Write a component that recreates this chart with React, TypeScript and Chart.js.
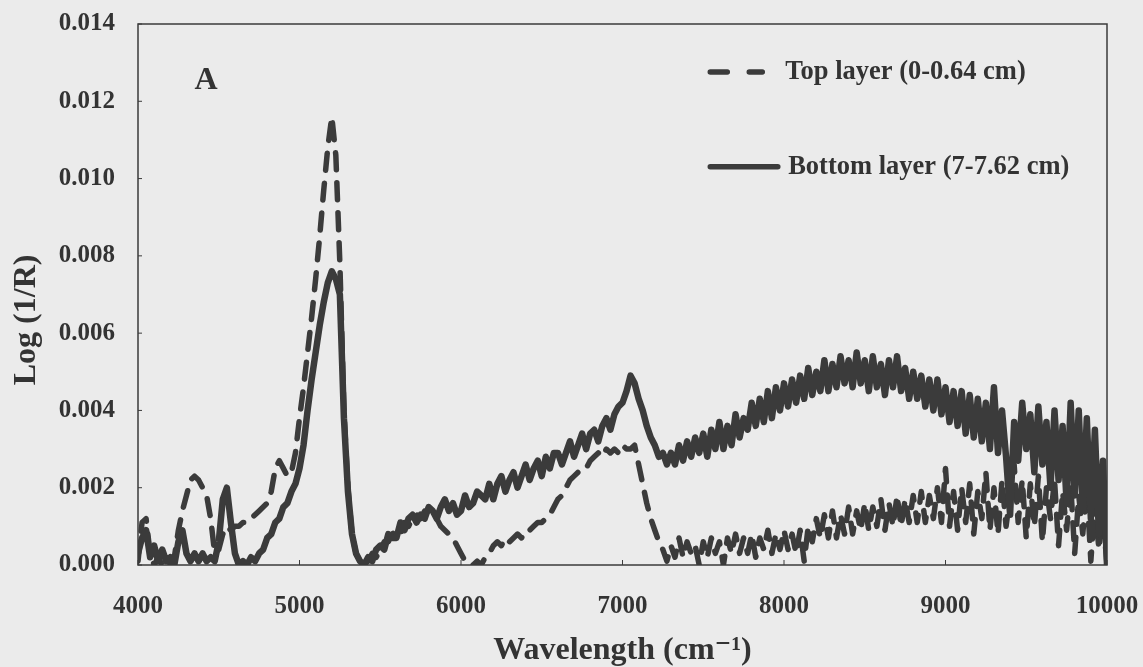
import React, { useEffect, useRef } from "react";
import { Chart, registerables } from "chart.js";

Chart.register(...registerables);

// Wavenumber axis (cm^-1)
const wavenumbers = [
  4000, 4025, 4050, 4075, 4100, 4125, 4150, 4175, 4200, 4225, 4250, 4275, 4300, 4325, 4350, 4375, 4400, 4425, 4450, 4475,
  4500, 4525, 4550, 4575, 4600, 4625, 4650, 4675, 4700, 4725, 4750, 4775, 4800, 4825, 4850, 4875, 4900, 4925, 4950, 4975,
  5000, 5025, 5050, 5075, 5100, 5125, 5150, 5175, 5200, 5225, 5250, 5275, 5300, 5325, 5350, 5375, 5400, 5425, 5450, 5475,
  5500, 5525, 5550, 5575, 5600, 5625, 5650, 5675, 5700, 5725, 5750, 5775, 5800, 5825, 5850, 5875, 5900, 5925, 5950, 5975,
  6000, 6025, 6050, 6075, 6100, 6125, 6150, 6175, 6200, 6225, 6250, 6275, 6300, 6325, 6350, 6375, 6400, 6425, 6450, 6475,
  6500, 6525, 6550, 6575, 6600, 6625, 6650, 6675, 6700, 6725, 6750, 6775, 6800, 6825, 6850, 6875, 6900, 6925, 6950, 6975,
  7000, 7025, 7050, 7075, 7100, 7125, 7150, 7175, 7200, 7225, 7250, 7275, 7300, 7325, 7350, 7375, 7400, 7425, 7450, 7475,
  7500, 7525, 7550, 7575, 7600, 7625, 7650, 7675, 7700, 7725, 7750, 7775, 7800, 7825, 7850, 7875, 7900, 7925, 7950, 7975,
  8000, 8025, 8050, 8075, 8100, 8125, 8150, 8175, 8200, 8225, 8250, 8275, 8300, 8325, 8350, 8375, 8400, 8425, 8450, 8475,
  8500, 8525, 8550, 8575, 8600, 8625, 8650, 8675, 8700, 8725, 8750, 8775, 8800, 8825, 8850, 8875, 8900, 8925, 8950, 8975,
  9000, 9025, 9050, 9075, 9100, 9125, 9150, 9175, 9200, 9225, 9250, 9275, 9300, 9325, 9350, 9375, 9400, 9425, 9450, 9475,
  9500, 9525, 9550, 9575, 9600, 9625, 9650, 9675, 9700, 9725, 9750, 9775, 9800, 9825, 9850, 9875, 9900, 9925, 9950, 9975,
  10000,
];

// Top layer (0-0.64 cm), Log(1/R)
const topLayer = [
  1e-4, 11e-4, 12e-4, 3e-4, 0, 2e-4, 0, 1e-4, 0, 2e-4, 9e-4, 14e-4, 18e-4, 22e-4, 23e-4, 22e-4, 20e-4, 18e-4, 12e-4, 3e-4,
  4e-4, 8e-4, 10e-4, 9e-4, 10e-4, 10e-4, 11e-4, 11e-4, 12e-4, 13e-4, 14e-4, 15e-4, 16e-4, 19e-4, 25e-4, 27e-4, 25e-4, 23e-4, 24e-4, 29e-4,
  38e-4, 46e-4, 55e-4, 64e-4, 74e-4, 85e-4, 97e-4, 108e-4, 116e-4, 106e-4, 78e-4, 40e-4, 20e-4, 8e-4, 3e-4, 1e-4, 0, 1e-4, 3e-4, 2e-4,
  4e-4, 6e-4, 6e-4, 8e-4, 9e-4, 8e-4, 11e-4, 10e-4, 12e-4, 13e-4, 12e-4, 14e-4, 14e-4, 13e-4, 12e-4, 10e-4, 9e-4, 8e-4, 7e-4, 5e-4,
  3e-4, 1e-4, 1e-4, 0, 1e-4, 0, 2e-4, 3e-4, 5e-4, 6e-4, 5e-4, 7e-4, 6e-4, 7e-4, 8e-4, 7e-4, 9e-4, 9e-4, 10e-4, 11e-4,
  11e-4, 12e-4, 13e-4, 15e-4, 17e-4, 18e-4, 20e-4, 22e-4, 23e-4, 24e-4, 25e-4, 25e-4, 27e-4, 28e-4, 29e-4, 28e-4, 30e-4, 29e-4, 30e-4, 29e-4,
  31e-4, 30e-4, 30e-4, 31e-4, 26e-4, 21e-4, 16e-4, 12e-4, 9e-4, 6e-4, 4e-4, 1e-4, 5e-4, 2e-4, 7e-4, 2e-4, 6e-4, 3e-4, 5e-4, 0,
  6e-4, 2e-4, 7e-4, 3e-4, 6e-4, 0, 7e-4, 3e-4, 8e-4, 3e-4, 7e-4, 3e-4, 8e-4, 2e-4, 7e-4, 4e-4, 9e-4, 3e-4, 8e-4, 4e-4,
  9e-4, 4e-4, 8e-4, 3e-4, 9e-4, 1e-4, 10e-4, 6e-4, 12e-4, 7e-4, 13e-4, 7e-4, 14e-4, 7e-4, 13e-4, 8e-4, 15e-4, 8e-4, 14e-4, 9e-4,
  16e-4, 9e-4, 15e-4, 10e-4, 17e-4, 9e-4, 16e-4, 10e-4, 18e-4, 10e-4, 17e-4, 11e-4, 18e-4, 11e-4, 19e-4, 11e-4, 18e-4, 12e-4, 20e-4, 11e-4,
  25e-4, 10e-4, 19e-4, 9e-4, 20e-4, 11e-4, 21e-4, 8e-4, 19e-4, 12e-4, 24e-4, 9e-4, 20e-4, 8e-4, 22e-4, 10e-4, 18e-4, 26e-4, 11e-4, 22e-4,
  7e-4, 21e-4, 10e-4, 23e-4, 6e-4, 20e-4, 12e-4, 22e-4, 5e-4, 19e-4, 9e-4, 21e-4, 3e-4, 18e-4, 8e-4, 20e-4, 1e-4, 16e-4, 4e-4, 13e-4,
  0,
];

// Bottom layer (7-7.62 cm), Log(1/R)
const bottomLayer = [
  3e-4, 7e-4, 9e-4, 2e-4, 5e-4, 1e-4, 4e-4, 1e-4, 2e-4, 0, 6e-4, 9e-4, 3e-4, 1e-4, 3e-4, 1e-4, 3e-4, 1e-4, 2e-4, 1e-4,
  6e-4, 17e-4, 20e-4, 11e-4, 3e-4, 0, 1e-4, 0, 2e-4, 1e-4, 3e-4, 4e-4, 7e-4, 8e-4, 11e-4, 12e-4, 15e-4, 16e-4, 19e-4, 21e-4,
  25e-4, 31e-4, 40e-4, 48e-4, 55e-4, 62e-4, 68e-4, 73e-4, 76e-4, 74e-4, 70e-4, 38e-4, 19e-4, 8e-4, 3e-4, 1e-4, 0, 2e-4, 1e-4, 4e-4,
  5e-4, 4e-4, 8e-4, 7e-4, 7e-4, 11e-4, 9e-4, 12e-4, 13e-4, 11e-4, 13e-4, 12e-4, 15e-4, 14e-4, 12e-4, 15e-4, 17e-4, 14e-4, 16e-4, 13e-4,
  14e-4, 18e-4, 15e-4, 16e-4, 19e-4, 18e-4, 17e-4, 21e-4, 17e-4, 21e-4, 23e-4, 19e-4, 22e-4, 24e-4, 20e-4, 23e-4, 26e-4, 22e-4, 25e-4, 27e-4,
  23e-4, 28e-4, 25e-4, 29e-4, 29e-4, 26e-4, 29e-4, 32e-4, 28e-4, 31e-4, 34e-4, 30e-4, 34e-4, 35e-4, 32e-4, 36e-4, 38e-4, 35e-4, 39e-4, 41e-4,
  42e-4, 45e-4, 49e-4, 47e-4, 43e-4, 40e-4, 36e-4, 33e-4, 31e-4, 28e-4, 29e-4, 26e-4, 29e-4, 26e-4, 31e-4, 27e-4, 32e-4, 28e-4, 33e-4, 29e-4,
  34e-4, 28e-4, 35e-4, 30e-4, 37e-4, 30e-4, 36e-4, 31e-4, 39e-4, 33e-4, 38e-4, 35e-4, 42e-4, 36e-4, 43e-4, 37e-4, 45e-4, 38e-4, 46e-4, 40e-4,
  47e-4, 41e-4, 48e-4, 42e-4, 49e-4, 43e-4, 51e-4, 44e-4, 50e-4, 45e-4, 53e-4, 45e-4, 52e-4, 46e-4, 54e-4, 47e-4, 53e-4, 46e-4, 55e-4, 47e-4,
  53e-4, 45e-4, 54e-4, 46e-4, 52e-4, 44e-4, 53e-4, 46e-4, 54e-4, 45e-4, 51e-4, 43e-4, 50e-4, 43e-4, 49e-4, 41e-4, 48e-4, 40e-4, 48e-4, 39e-4,
  46e-4, 37e-4, 45e-4, 36e-4, 45e-4, 34e-4, 44e-4, 33e-4, 43e-4, 32e-4, 42e-4, 30e-4, 46e-4, 29e-4, 40e-4, 28e-4, 13e-4, 37e-4, 27e-4, 42e-4,
  30e-4, 39e-4, 24e-4, 41e-4, 26e-4, 37e-4, 20e-4, 40e-4, 22e-4, 36e-4, 16e-4, 42e-4, 18e-4, 40e-4, 14e-4, 38e-4, 12e-4, 35e-4, 8e-4, 27e-4,
  0,
];

const seriesLabels = ["Top layer (0-0.64 cm)", "Bottom layer (7-7.62 cm)"];
const panelLabel = "A";
const xTitle = "Wavelength (cm\u207B\u00B9)";
const yTitle = "Log (1/R)";

const INK = "#3b3b3b";
const TEXT = "#333333";
const BG = "#ebebeb";
const SERIF = "'Liberation Serif', 'Times New Roman', 'DejaVu Serif', serif";

const decorPlugin = {
  id: "decor",
  afterDraw(chart: any) {
    const { ctx, chartArea: a, scales } = chart;
    const w = a.right - a.left;
    const h = a.bottom - a.top;
    ctx.save();
    // frame
    ctx.strokeStyle = INK;
    ctx.lineWidth = 1.5;
    ctx.setLineDash([]);
    ctx.strokeRect(a.left, a.top, w, h);
    // inner tick marks
    ctx.lineWidth = 1;
    scales.y.ticks.forEach((t: any) => {
      const py = scales.y.getPixelForValue(t.value);
      ctx.beginPath();
      ctx.moveTo(a.left, py);
      ctx.lineTo(a.left + 4, py);
      ctx.stroke();
    });
    scales.x.ticks.forEach((t: any) => {
      const px = scales.x.getPixelForValue(t.value);
      ctx.beginPath();
      ctx.moveTo(px, a.bottom);
      ctx.lineTo(px, a.bottom - 5);
      ctx.stroke();
    });
    // y axis title
    ctx.fillStyle = TEXT;
    ctx.font = `bold 32px ${SERIF}`;
    ctx.textAlign = "center";
    ctx.textBaseline = "middle";
    ctx.save();
    ctx.translate(a.left - 111, a.top + 0.547 * h);
    ctx.rotate(-Math.PI / 2);
    ctx.fillText(yTitle, 0, 0);
    ctx.restore();
    // panel letter
    ctx.fillText(panelLabel, a.left + 0.0702 * w, a.top + 0.105 * h);
    // legend
    const ds = chart.data.datasets;
    const y1 = a.top + 0.0887 * h;
    const y2 = a.top + 0.264 * h;
    const lx = a.left + 0.588 * w;
    ctx.strokeStyle = ds[0].borderColor;
    ctx.lineWidth = 5.5;
    ctx.lineCap = "round";
    ctx.setLineDash([17, 22]);
    ctx.beginPath();
    ctx.moveTo(lx + 2.5, y1);
    ctx.lineTo(lx + 54.5, y1);
    ctx.stroke();
    ctx.setLineDash([]);
    ctx.strokeStyle = ds[1].borderColor;
    ctx.beginPath();
    ctx.moveTo(lx + 2.5, y2);
    ctx.lineTo(lx + 70, y2);
    ctx.stroke();
    ctx.font = `bold 26.5px ${SERIF}`;
    ctx.textAlign = "left";
    ctx.textBaseline = "middle";
    ctx.fillStyle = TEXT;
    ctx.fillText(ds[0].label, a.left + 0.668 * w, y1);
    ctx.fillText(ds[1].label, a.left + 0.671 * w, y2);
    ctx.restore();
  },
};

export default function App() {
  const ref = useRef<HTMLCanvasElement>(null);
  useEffect(() => {
    document.body.style.margin = "0";
    document.body.style.background = BG;
    const canvas = ref.current;
    if (!canvas) return;
    const chart = new Chart(canvas, {
      type: "line",
      data: {
        datasets: [
          {
            label: seriesLabels[0],
            data: wavenumbers.map((x, i) => ({ x, y: topLayer[i] })),
            borderColor: INK,
            borderWidth: 5.5,
            borderDash: [17, 13],
            borderCapStyle: "round",
            borderJoinStyle: "round",
            pointRadius: 0,
            tension: 0,
            fill: false,
            order: 2,
          },
          {
            label: seriesLabels[1],
            data: wavenumbers.map((x, i) => ({ x, y: bottomLayer[i] })),
            borderColor: INK,
            borderWidth: 6.5,
            borderCapStyle: "round",
            borderJoinStyle: "round",
            pointRadius: 0,
            tension: 0,
            fill: false,
            order: 1,
          },
        ],
      },
      options: {
        responsive: false,
        devicePixelRatio: 1,
        animation: false,
        layout: { padding: { top: 24, right: 36, left: 0, bottom: 0 } },
        plugins: {
          legend: { display: false },
          tooltip: { enabled: false },
        },
        scales: {
          x: {
            type: "linear",
            min: 4000,
            max: 10000,
            grid: {
              display: true,
              drawOnChartArea: false,
              drawTicks: true,
              tickLength: 27,
              color: "rgba(0,0,0,0)",
            },
            border: { display: false },
            ticks: {
              stepSize: 1000,
              padding: 0,
              color: TEXT,
              font: { family: SERIF, size: 25, weight: "bold" },
              callback: (v: any) => String(v),
            },
            title: {
              display: true,
              text: xTitle,
              color: TEXT,
              font: { family: SERIF, size: 32, weight: "bold", lineHeight: 1 },
              padding: { top: 0, bottom: 0 },
            },
            afterFit: (s: any) => {
              s.height = 102;
            },
          },
          y: {
            type: "linear",
            min: 0,
            max: 0.014,
            grid: {
              display: true,
              drawOnChartArea: false,
              drawTicks: true,
              tickLength: 23,
              color: "rgba(0,0,0,0)",
            },
            border: { display: false },
            ticks: {
              stepSize: 0.002,
              padding: 0,
              color: TEXT,
              font: { family: SERIF, size: 25, weight: "bold" },
              callback: (v: any) => Number(v).toFixed(3),
            },
            title: { display: false },
            afterFit: (s: any) => {
              s.width = 138;
            },
          },
        },
      },
      plugins: [decorPlugin],
    } as any);
    return () => chart.destroy();
  }, []);
  return (
    <div style={{ width: 1143, height: 667, background: BG }}>
      <canvas ref={ref} width={1143} height={667} style={{ display: "block" }} />
    </div>
  );
}
